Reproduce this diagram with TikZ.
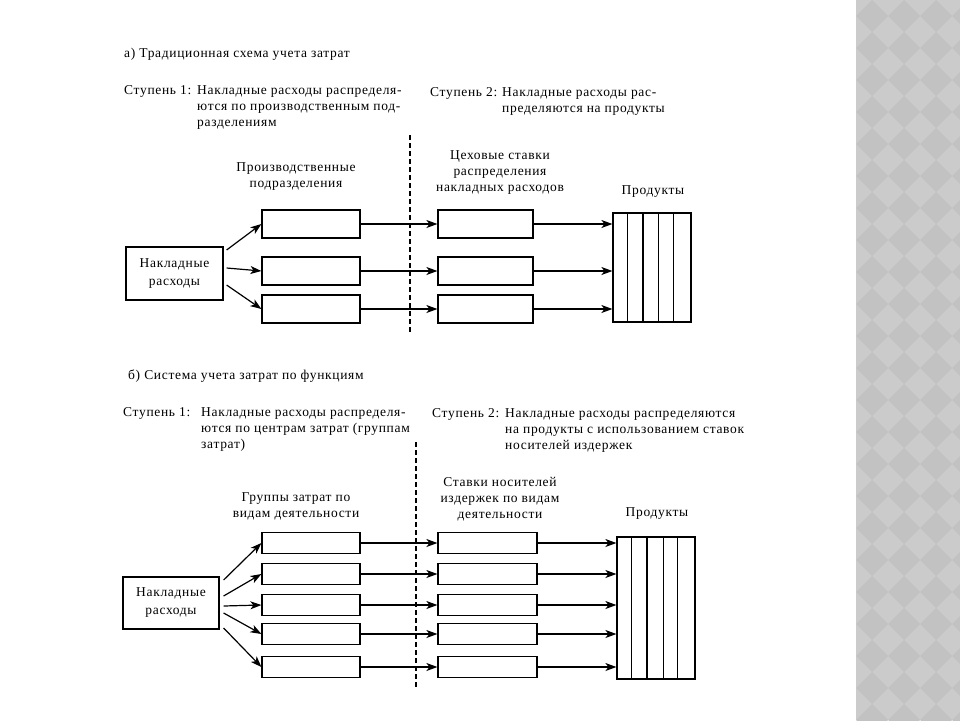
\documentclass[tikz,border=0pt]{standalone}
\usepackage{fontspec}
\setmainfont[LetterSpace=5]{Liberation Serif}
\usetikzlibrary{arrows.meta,calc}
\definecolor{stripgray}{RGB}{203,203,203}
\definecolor{diamgray}{RGB}{194,194,194}

\begin{document}
\begin{tikzpicture}[x=1pt,y=-1pt,font=\fontsize{13.5}{16}\selectfont,
    box/.style={draw,line width=1.2pt,inner sep=0pt},
    arr/.style={-{Stealth[length=11pt,width=8pt,inset=3pt]},line width=1.2pt},
    txt/.style={anchor=base west,inner sep=0pt,align=left},
    ctr/.style={anchor=base,inner sep=0pt,align=center}]
    \useasboundingbox (0,0) rectangle (960,720);
    % background strip
    \fill[stripgray] (856,0) rectangle (960,720);
    \begin{scope}
        \clip (856,0) rectangle (960,720);
        \foreach \i in {0,...,3}
            \foreach \j in {0,...,23}
                \fill[diamgray] ({872+32*\i},{32*\j}) -- ({888+32*\i},{16+32*\j}) -- ({872+32*\i},{32+32*\j}) -- ({856+32*\i},{16+32*\j}) -- cycle;
    \end{scope}

    % a)
    \node[txt] (titleA) at (124,57) {а) Традиционная схема учета затрат};
    \node[txt] (stepA1) at (124,94) {Ступень 1:};
    \node[txt] (stepA1t) at (197,126) {Накладные расходы распределя-\\ются по производственным под-\\разделениям};
    \node[txt] (stepA2) at (430,96) {Ступень 2:};
    \node[txt] (stepA2t) at (502,112) {Накладные расходы рас-\\пределяются на продукты};
    \node[ctr] (headA1) at (296,187) {Производственные\\подразделения};
    \node[ctr] (headA2) at (500,191) {Цеховые ставки\\распределения\\накладных расходов};
    \node[ctr] (headA3) at (653,194) {Продукты};

    \node[box,minimum width=97pt,minimum height=53pt,align=center,font=\fontsize{13.5}{18}\selectfont] (ohA) at (174.5,273.5) {Накладные\\расходы};
    \foreach \n/\y in {1/224,2/271,3/309}{
        \node[box,minimum width=98pt,minimum height=28pt] (depA\n) at (311,\y) {};
        \node[box,minimum width=95pt,minimum height=28pt] (rateA\n) at (485.5,\y) {};
    }
    \node[box,minimum width=78pt,minimum height=109pt] (prodA) at (652,267.5) {};
    \foreach \f in {0.19,0.385,0.58,0.77}
        \draw[line width=1.2pt] ($(prodA.north west)!\f!(prodA.north east)$) -- ($(prodA.south west)!\f!(prodA.south east)$);

    \draw[arr] ([xshift=3pt,yshift=23.5pt]ohA.east) -- (depA1.west);
    \draw[arr] ([xshift=3pt,yshift=5.5pt]ohA.east) -- (depA2.west);
    \draw[arr] ([xshift=3pt,yshift=-11.5pt]ohA.east) -- (depA3.west);
    \foreach \n in {1,2,3}{
        \draw[arr] (depA\n.east) -- (rateA\n.west);
        \draw[arr] (rateA\n.east) -- (rateA\n.east -| prodA.west);
    }
    \draw[line width=1.2pt,dash pattern=on 5pt off 3pt] (410,135) -- (410,333);

    % b)
    \node[txt] (titleB) at (128,379) {б) Система учета затрат по функциям};
    \node[txt] (stepB1) at (123,416) {Ступень 1:};
    \node[txt] (stepB1t) at (201,448) {Накладные расходы распределя-\\ются по центрам затрат (группам\\затрат)};
    \node[txt] (stepB2) at (432,417) {Ступень 2:};
    \node[txt] (stepB2t) at (505,449) {Накладные расходы распределяются\\на продукты с использованием ставок\\носителей издержек};
    \node[ctr] (headB1) at (296,517) {Группы затрат по\\видам деятельности};
    \node[ctr] (headB2) at (500,518) {Ставки носителей\\издержек по видам\\деятельности};
    \node[ctr] (headB3) at (657,516) {Продукты};

    \node[box,minimum width=96pt,minimum height=52pt,align=center,font=\fontsize{13.5}{18}\selectfont] (ohB) at (171,603) {Накладные\\расходы};
    \foreach \n/\y in {1/543,2/574,3/605,4/634,5/667}{
        \node[box,minimum width=98pt,minimum height=21pt] (grpB\n) at (311,\y) {};
        \node[box,minimum width=99pt,minimum height=21pt] (rateB\n) at (487.5,\y) {};
    }
    \node[box,minimum width=78pt,minimum height=142pt] (prodB) at (656,608) {};
    \foreach \f in {0.19,0.385,0.59,0.77}
        \draw[line width=1.2pt] ($(prodB.north west)!\f!(prodB.north east)$) -- ($(prodB.south west)!\f!(prodB.south east)$);

    \foreach \n/\s in {1/23,2/7,3/-3,4/-10,5/-25}
        \draw[arr] ([xshift=4pt,yshift=\s pt]ohB.east) -- (grpB\n.west);
    \foreach \n in {1,...,5}{
        \draw[arr] (grpB\n.east) -- (rateB\n.west);
        \draw[arr] (rateB\n.east) -- (rateB\n.east -| prodB.west);
    }
    \draw[line width=1.2pt,dash pattern=on 5pt off 3pt] (416,442) -- (416,688);
\end{tikzpicture}
\end{document}
